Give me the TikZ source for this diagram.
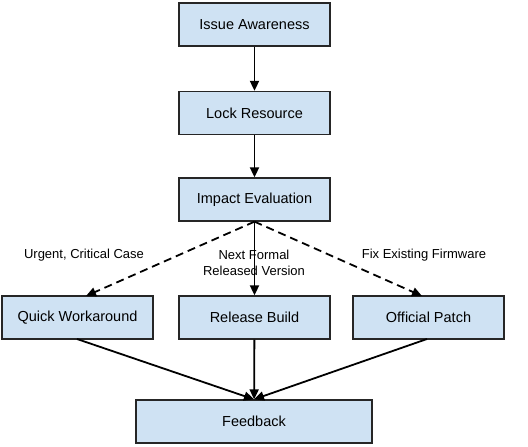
\documentclass[tikz,border=0pt]{standalone}
\usepackage{fontspec}
\setmainfont{Liberation Sans}
\usetikzlibrary{arrows.meta}
\definecolor{boxfill}{HTML}{CFE2F3}
\begin{document}
\begin{tikzpicture}[x=1pt,y=-1pt,
  box/.style={draw=black!85, line width=1.3pt, fill=boxfill, minimum width=151pt, minimum height=43pt, inner sep=0pt, font=\fontsize{14.5}{17}\selectfont},
  conn/.style={line width=1.8pt, -{Triangle[length=10pt,width=9pt]}},
  lbl/.style={font=\fontsize{13}{16}\selectfont, align=center}]
\useasboundingbox (0,0) rectangle (528,447);
\node[box] (ia) at (254.5,24.5) {Issue Awareness};
\node[box] (lr) at (254.5,113) {Lock Resource};
\node[box] (ie) at (254.5,199.5) {Impact Evaluation};
\node[box] (qw) at (77.5,317.5) {Quick Workaround};
\node[box] (rb) at (254.5,317.5) {Release Build};
\node[box] (op) at (428.5,317.5) {Official Patch};
\node[box, minimum width=236pt] (fb) at (254,421.5) {Feedback};
\coordinate (qwt) at (86,296);
\coordinate (opt) at (422,296);
\coordinate (qwb) at (77,339);
\coordinate (opb) at (427,339);
\draw[conn] (ia) -- (lr);
\draw[conn] (lr) -- (ie);
\draw[conn, dashed, dash pattern=on 8pt off 5pt] (ie.south) -- (qwt);
\draw[conn, dashed, dash pattern=on 8pt off 5pt] (ie.south) -- (opt);
\draw[conn] (ie) -- (rb);
\draw[conn] (qwb) -- (fb.north);
\draw[conn] (rb) -- (fb);
\draw[conn] (opb) -- (fb.north);
\node[lbl] (l1) at (84,255) {Urgent, Critical Case};
\node[lbl] (l2) at (254,263) {Next Formal\\Released Version};
\node[lbl] (l3) at (424,255) {Fix Existing Firmware};
\end{tikzpicture}
\end{document}
